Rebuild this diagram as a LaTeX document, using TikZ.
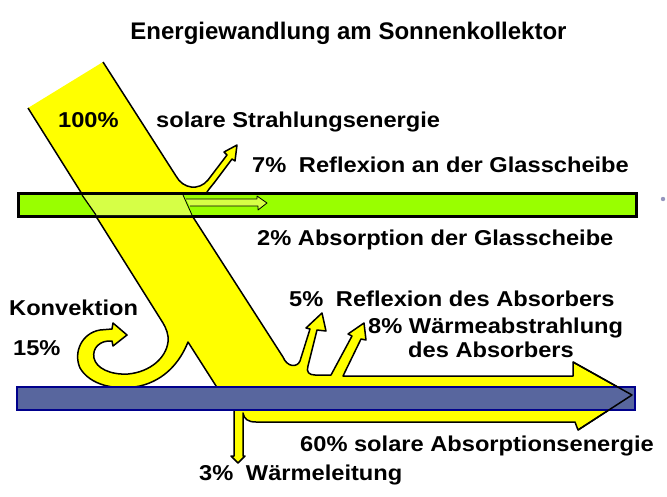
\documentclass[tikz,border=0pt]{standalone}
\usepackage{fontspec}
\newfontfamily\lblfont{Liberation Sans}[FakeStretch=1.1]
\newfontfamily\ttlfont{Liberation Sans}
\definecolor{beamyellow}{RGB}{255,255,0}
\definecolor{glassgreen}{RGB}{153,255,0}
\definecolor{hatchcol}{RGB}{214,255,70}
\definecolor{absfill}{RGB}{88,102,158}
\definecolor{absedge}{RGB}{0,0,140}
\definecolor{dotgrey}{RGB}{150,150,190}
\tikzset{
  lbl/.style={anchor=base west, inner sep=0pt, font=\lblfont\bfseries\fontsize{21.5}{24}\selectfont},
  ttl/.style={anchor=base, inner sep=0pt, font=\ttlfont\bfseries\fontsize{24}{28}\selectfont},
  outline/.style={draw=black, line width=1.5pt, line join=round},
}
\def\beamoutline{(103,62) -- (176,176) .. controls (183,189) and (199,191) .. (208,180) -- (227,155) -- (224,152) -- (237,145) -- (235,161) -- (232,159) -- (214,183) .. controls (210,188) and (207,191) .. (205,196) -- (205,205) -- (193,217) -- (283,357) .. controls (287,367) and (297,368) .. (300,361) -- (310,329) -- (306,328) -- (322,313) -- (326,331) -- (317,330) -- (308,366) .. controls (306,372) and (309,375) .. (315,375) -- (331,375) -- (352,336) -- (348,334) -- (364,323) -- (366,340) -- (361,339) -- (343,376) -- (573,376) -- (573,362) -- (632,395) -- (578,430) -- (575,422) -- (256,422) .. controls (248,422) and (244,419) .. (243,413) -- (243,456) -- (245,456) -- (238,463) -- (231,456) -- (234,456) -- (234,400) -- (225,400) -- (188,342) .. controls (180,362) and (165,380) .. (140,386) .. controls (115,391) and (90,385) .. (80,368) .. controls (73,352) and (82,333) .. (100,330) -- (112,329) -- (113,323) -- (127,335) -- (113,346) -- (112,341) .. controls (100,340) and (92,348) .. (94,358) .. controls (96,368) and (110,375) .. (128,374) .. controls (150,372) and (166,358) .. (168,342) .. controls (169,335) and (166,328) .. (163,323) -- (28,108)}
\begin{document}
\begin{tikzpicture}[x=1pt,y=-1pt]
\useasboundingbox[fill=white] (0,0) rectangle (667,496);
% yellow energy flow
\fill[beamyellow] (28,108) -- \beamoutline -- cycle;
\draw[outline] \beamoutline;
% glass plate
\draw[line width=3pt, fill=glassgreen] (18.5,193.5) rectangle (636.5,216.5);
\fill[hatchcol] (83,195) -- (183,195) -- (191.5,215) -- (96,215) -- cycle;
\draw[line width=1.2pt] (82,195) -- (96,215);
\draw[line width=0.8pt] (183,195) -- (192,215);
% 2% arrow in glass
\draw[line width=0.8pt, fill=hatchcol, line join=round] (186,199) -- (257,199) -- (257,196) -- (267,203) -- (258,210) -- (258,206) -- (190,206);
% absorber
\draw[line width=2pt, draw=absedge, fill=absfill] (17,387) rectangle (635,410);
\draw[outline] (573,362) -- (632,395) -- (578,430);
% stray dot
\fill[dotgrey] (663,199) circle (2.2);
% texts
\node[ttl] (title) at (348.5,39) {Energiewandlung am Sonnenkollektor};
\node[lbl] (p100) at (58,127) {100\%};
\node[lbl] (solar) at (156,127) {solare Strahlungsenergie};
\node[lbl] (refl7) at (252,172) {7\%\hspace{6pt} Reflexion an der Glasscheibe};
\node[lbl] (abs2) at (257,245) {2\% Absorption der Glasscheibe};
\node[lbl] (konv) at (9,315) {Konvektion};
\node[lbl] (p15) at (13,355) {15\%};
\node[lbl] (refl5) at (289,306) {5\%\hspace{6pt} Reflexion des Absorbers};
\node[lbl] (rad8) at (368,333) {8\% Wärmeabstrahlung};
\node[lbl] (rad8b) at (408,357) {des Absorbers};
\node[lbl] (abs60) at (300,451) {60\% solare Absorptionsenergie};
\node[lbl] (cond3) at (199,480) {3\%\hspace{6pt} Wärmeleitung};
\end{tikzpicture}
\end{document}
